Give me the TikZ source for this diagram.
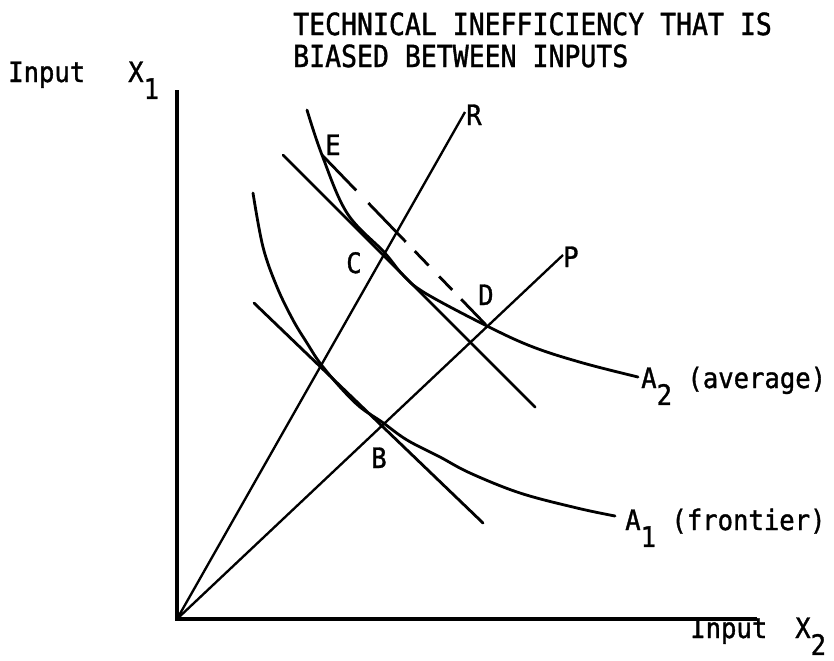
\documentclass[tikz,border=0pt]{standalone}
\usepackage{fontspec}
\usepackage{tikz}
\newfontfamily\typefont[FakeStretch=0.87,FakeBold=1.2]{DejaVu Sans Mono}
\newfontfamily\labelfont[FakeStretch=0.91,FakeBold=1.2]{DejaVu Sans Mono}
\newcommand{\lowsub}[1]{\raisebox{-0.6em}{#1}}

\tikzset{
  axisline/.style={line width=3pt},
  rayline/.style={line width=2pt},
  isoline/.style={line width=2.4pt,line cap=round},
  ptlabel/.style={anchor=base west,inner sep=0pt,font=\labelfont\fontsize{24}{28}\selectfont},
  headtext/.style={anchor=base west,inner sep=0pt,font=\typefont\fontsize{26}{30}\selectfont},
}

\begin{document}
\begin{tikzpicture}[x=0.3mm,y=-0.3mm]
\path[use as bounding box] (0,0) rectangle (834,660);
% points of the diagram
\coordinate (O) at (177,619);
\coordinate (Xend) at (757,619);
\coordinate (Yend) at (177,90);
\coordinate (Rend) at (465,112);
\coordinate (Pend) at (563,255);
\coordinate (E) at (322,155);
\coordinate (C) at (384,252);
\coordinate (D) at (487,326);
\coordinate (B) at (382,422);
\coordinate (tc1) at (283,155);
\coordinate (tc2) at (535,407);
\coordinate (tb1) at (254,303);
\coordinate (tb2) at (483,523);
% axes
\draw[axisline] (Yend) -- (O) -- (Xend);
% rays from the origin
\draw[rayline] (O) -- (Rend);
\draw[rayline] (O) -- (Pend);
% isoquants
\draw[isoline] plot[smooth,tension=0.6] coordinates {(307,110) (E) (347,213) (C) (403,275) (425,293) (D) (533,347) (583,363) (638,377)};
\draw[isoline] plot[smooth,tension=0.6] coordinates {(253,193) (263,247) (277,287) (293,320) (307,343) (320,363) (340,387) (360,407) (B) (407,440) (440,457) (470,473) (520,493) (577,508) (615,516)};
% price lines
\draw[isoline] (tc1) -- (tc2);
\draw[isoline] (tb1) -- (tb2);
\draw[isoline,line cap=butt,dash pattern=on 42pt off 15pt on 46pt off 11pt on 17pt off 13pt on 16pt off 11pt on 30pt off 20pt] (E) -- (D);
% texts
\node[headtext] (title1) at (293,35) {TECHNICAL INEFFICIENCY THAT IS};
\node[headtext] (title2) at (293,67) {BIASED BETWEEN INPUTS};
\node[ptlabel] (ylab) at (8,82) {Input};
\node[ptlabel] (ysym) at (128,82) {X\lowsub{1}};
\node[ptlabel] (xlab) at (690,638) {Input};
\node[ptlabel] (xsym) at (795,638) {X\lowsub{2}};
\node[ptlabel] (lR) at (466,125) {R};
\node[ptlabel] (lP) at (563,267) {P};
\node[ptlabel] (lE) at (325,155) {E};
\node[ptlabel] (lC) at (346,273) {C};
\node[ptlabel] (lD) at (478,305) {D};
\node[ptlabel] (lB) at (371,468) {B};
\node[ptlabel] (lA2) at (641,388) {A\lowsub{2} (average)};
\node[ptlabel] (lA1) at (625,530) {A\lowsub{1} (frontier)};
\end{tikzpicture}
\end{document}
